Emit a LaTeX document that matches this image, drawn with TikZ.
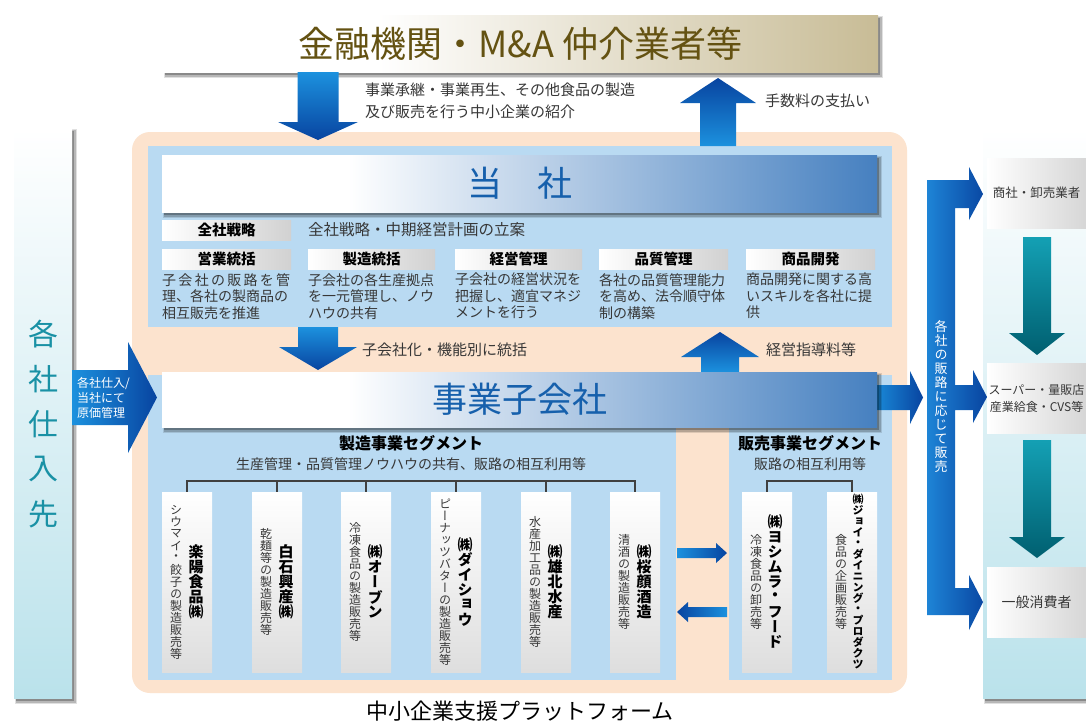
\documentclass[tikz,border=0pt]{standalone}
\usepackage{fontspec}
\setmainfont{Noto Sans CJK JP}
\newfontfamily\vfont[RawFeature=+vert]{Noto Sans CJK JP}
\definecolor{peach}{RGB}{252,227,206}
\definecolor{lblue}{RGB}{185,218,242}
\definecolor{bnblue}{RGB}{70,128,192}
\definecolor{bntext}{RGB}{22,96,172}
\definecolor{tanc}{RGB}{200,188,150}
\definecolor{olive}{RGB}{100,82,18}
\definecolor{arlight}{RGB}{28,145,222}
\definecolor{ardark}{RGB}{8,68,160}
\definecolor{armid}{RGB}{30,132,214}
\definecolor{tealA}{RGB}{20,160,180}
\definecolor{tealB}{RGB}{0,95,112}
\definecolor{cyanbg}{RGB}{186,226,235}
\definecolor{tealtext}{RGB}{25,145,165}
\definecolor{txt}{RGB}{55,55,55}
\pgfdeclarehorizontalshading{topshade}{100bp}{color(0bp)=(white); color(40bp)=(white); color(75bp)=(tanc); color(100bp)=(tanc)}
\pgfdeclarehorizontalshading{bannershade}{100bp}{color(0bp)=(white); color(38bp)=(white); color(75bp)=(bnblue); color(100bp)=(bnblue)}
\def\vstkend{VSTKEND}
\newcommand\vstk[2]{\vbox{\offinterlineskip\def\vcellh{#1}\vstkloop#2\vstkend}}
\def\vstkloop#1{\ifx#1\vstkend\else\vbox to \vcellh{\vss\hbox to \vcellh{\hss#1\hss}\vss}\expandafter\vstkloop\fi}
% vertical block arrow: cx, ystart, ytip, shaft half width, head half width, y of head base, style
\newcommand\arrV[7]{\path[#7] ({#1-#4},#2) -- ({#1-#4},#6) -- ({#1-#5},#6) -- (#1,#3) -- ({#1+#5},#6) -- ({#1+#4},#6) -- ({#1+#4},#2) -- cycle;}
% horizontal block arrow: cy, xstart, xtip, shaft half width, head half width, x of head base, style
\newcommand\arrH[7]{\path[#7] (#2,{#1-#4}) -- (#6,{#1-#4}) -- (#6,{#1-#5}) -- (#3,#1) -- (#6,{#1+#5}) -- (#6,{#1+#4}) -- (#2,{#1+#4}) -- cycle;}
% soft shadow behind a box: x1,y1,x2,y2
\newcommand\shadowrect[4]{%
 \fill[black, opacity=.12] ({#1+1},{#2+1}) rectangle ({#3+5},{#4+6});
 \fill[black, opacity=.18] ({#1+1.5},{#2+2}) rectangle ({#3+3.5},{#4+4.5});
 \fill[black, opacity=.25] ({#1+2},{#2+2.5}) rectangle ({#3+2},{#4+3});}
\newcommand\cobox[7]{%
 \node[cbox] (#1) at (#2,582) {};
 \node[inner sep=0, text=txt, font=\vfont\fontsize{#4}{#4}\selectfont] (#1d) at ([xshift=-11pt]#1.center) {\vstk{#4pt}{#3}};
 \node[inner sep=0, text=black, font=\vfont\bfseries\fontsize{#6}{#6}\selectfont] (#1n) at ([xshift=#7pt]#1.center) {\vstk{#6pt}{#5}};}
\tikzset{
 topbox/.style={shade, shading=topshade, minimum width=715pt, minimum height=57pt, inner sep=0, text=olive, font=\fontsize{36}{40}\selectfont},
 banner/.style={shade, shading=bannershade, minimum width=715pt, inner sep=0, text=bntext, font=\fontsize{35}{40}\selectfont},
 lbox/.style={left color=white, right color=black!18, minimum width=129pt, minimum height=20pt, inner sep=0, font=\bfseries\fontsize{14.5}{16}\selectfont},
 dsc/.style={align=left, inner sep=0, text=txt, font=\fontsize{14}{16.5}\selectfont, anchor=north west},
 lbl/.style={inner sep=0, text=txt, font=\fontsize{15}{18}\selectfont},
 cbox/.style={top color=white, bottom color=black!13, minimum width=50pt, minimum height=180pt, inner sep=0},
 ibox/.style={left color=white, right color=black!16, minimum width=99pt, minimum height=70pt, inner sep=0, text=txt, align=center},
 tree/.style={draw=black!75, line width=1.6pt},
 arrdown/.style={top color=arlight, bottom color=ardark},
 arrup/.style={top color=ardark, bottom color=arlight},
 arrright/.style={left color=arlight, right color=ardark},
 arrleft/.style={left color=ardark, right color=arlight},
 tealarr/.style={top color=tealA, bottom color=tealB},
 sidebar/.style={top color=white, bottom color=cyanbg, minimum width=58pt, minimum height=570pt, inner sep=0}
}
\begin{document}
\begin{tikzpicture}[x=1pt,y=-1pt]
\fill[white] (0,0) rectangle (1086,724);
\useasboundingbox (0,0) rectangle (1086,724);
% side columns
\shadowrect{14}{128}{72}{698}
\node[sidebar] (shiire) at (43,413) {};
\node[inner sep=0, text=tealtext, font=\fontsize{30}{30}\selectfont] (shiiret) at (43,424) {\vstk{45pt}{各社仕入先}};
\shadowrect{983}{128}{1086}{698}
\node[sidebar, minimum width=103pt] (hanro) at (1034.5,413) {};
% platform background
\fill[peach, rounded corners=18pt] (132,132) rectangle (907,693);
\fill[lblue] (148,146) rectangle (892,327);
\fill[lblue] (148,375) rectangle (676,680);
\fill[lblue] (729,375) rectangle (892,680);
% top box and arrows
\shadowrect{163}{15}{878}{72}
\node[topbox] (fin) at (520.5,43.5) {金融機関・M\&A 仲介業者等};
\arrV{318}{72}{140}{20.5}{40}{122}{arrdown}
\arrV{718}{146}{78}{18}{38}{103}{arrup}
\node[lbl, anchor=west] (t1) at (365,90) {事業承継・事業再生、その他食品の製造};
\node[lbl, anchor=west] (t2) at (365,112) {及び販売を行う中小企業の紹介};
\node[lbl, anchor=west] (t3) at (765,101) {手数料の支払い};
% Tosha
\shadowrect{162}{155}{877}{212}
\node[banner, minimum height=57pt] (tosha) at (519.5,183.5) {当　社};
\node[lbox] (l0) at (226.5,230) {全社戦略};
\node[lbl, anchor=west, font=\fontsize{15.5}{18}\selectfont] (l0t) at (308,230) {全社戦略・中期経営計画の立案};
\node[lbox] (l1) at (226.5,259) {営業統括};
\node[lbox, minimum width=127pt] (l2) at (371.5,259) {製造統括};
\node[lbox, minimum width=127pt] (l3) at (518.5,259) {経営管理};
\node[lbox] (l4) at (663.5,259) {品質管理};
\node[lbox] (l5) at (810.5,259) {商品開発};
\node[dsc] (d1) at (162,273) {\hbox to 128pt{子\hfill 会\hfill 社\hfill の\hfill 販\hfill 路\hfill を\hfill 管}\\理、各社の製商品の\\相互販売を推進};
\node[dsc] (d2) at (308,273) {子会社の各生産拠点\\を一元管理し、ノウ\\ハウの共有};
\node[dsc] (d3) at (455,273) {子会社の経営状況を\\把握し、適宜マネジ\\メントを行う};
\node[dsc] (d4) at (599,273) {各社の品質管理能力\\を高め、法令順守体\\制の構築};
\node[dsc] (d5) at (746,273) {商品開発に関する高\\いスキルを各社に提\\供};
% middle arrows
\arrV{318}{327}{370}{20}{39}{347}{arrdown}
\arrV{720}{372}{332}{19}{39}{357}{arrup}
\node[lbl, anchor=west] (t4) at (362,350) {子会社化・機能別に統括};
\node[lbl, anchor=west] (t5) at (766,350) {経営指導料等};
% left supply arrow
\arrH{397.5}{72}{157}{27.5}{55.5}{128}{arrright}
\node[inner sep=0, text=white, align=left, anchor=west, font=\fontsize{12}{15}\selectfont] (shtxt) at (77,398) {各社仕入/\\当社にて\\原価管理};
% right arrow from subsidiaries
\arrH{397.5}{870}{923}{12.5}{26.5}{910}{arrright}
% subsidiaries banner
\shadowrect{162}{372}{877}{427}
\node[banner, minimum height=55pt] (jigyo) at (519.5,399.5) {事業子会社};
% distribution bracket
\path[left color=armid, right color=ardark] (927,180) -- (969,180) -- (969,167) -- (983,194) -- (969,220) -- (969,208) -- (955,208) -- (955,385) -- (973,385) -- (973,370) -- (987,397) -- (973,423) -- (973,410) -- (955,410) -- (955,588) -- (969,588) -- (969,575) -- (983,602) -- (969,630) -- (969,615) -- (927,615) -- cycle;
\node[inner sep=0, text=white, font=\vfont\fontsize{13}{13}\selectfont] (barlbl) at (941,397) {\vstk{14pt}{各社の販路に応じて販売}};
% customers
\node[ibox, font=\fontsize{12.5}{15}\selectfont] (r1) at (1036.5,193) {商社・卸売業者};
\node[ibox, font=\fontsize{12}{17}\selectfont] (r2) at (1036.5,398) {スーパー・量販店\\産業給食・CVS等};
\node[ibox, font=\fontsize{14}{16}\selectfont] (r3) at (1036.5,602.5) {一般消費者};
\arrV{1037}{237}{355}{14}{28}{333}{tealarr}
\arrV{1037}{440}{558}{14}{28}{537}{tealarr}
% segments
\node[inner sep=0, font=\bfseries\fontsize{16}{18}\selectfont] (seg1) at (411,443) {製造事業セグメント};
\node[lbl, font=\fontsize{14}{16}\selectfont] (seg1t) at (411,464) {生産管理・品質管理ノウハウの共有、販路の相互利用等};
\node[inner sep=0, font=\bfseries\fontsize{16}{18}\selectfont] (seg2) at (810,443) {販売事業セグメント};
\node[lbl, font=\fontsize{14}{16}\selectfont] (seg2t) at (810,464) {販路の相互利用等};
% companies
\cobox{c1}{187}{シウマイ・餃子の製造販売等}{12}{楽陽食品㈱}{15}{9}
\cobox{c2}{277}{乾麺等の製造販売等}{12}{白石興産㈱}{15}{9}
\cobox{c3}{366}{冷凍食品の製造販売等}{12}{㈱オーブン}{15}{9}
\cobox{c4}{456}{ピーナッツバターの製造販売等}{12}{㈱ダイショウ}{15}{9}
\cobox{c5}{546}{水産加工品の製造販売等}{12}{㈱雄北水産}{15}{9}
\cobox{c6}{635}{清酒の製造販売等}{12}{㈱桜顔酒造}{15}{9}
\cobox{c7}{767}{冷凍食品の卸売等}{12}{㈱ヨシムラ・フード}{15}{8}
\cobox{c8}{852}{食品の企画販売等}{12}{㈱ジョイ・ダイニング・プロダクツ}{11}{6}
\draw[tree] (c1.north) -- ++(0,-11) -| (c6.north);
\foreach \c in {c2,c3,c4,c5} \draw[tree] (\c.north) -- ++(0,-11);
\draw[tree] (c7.north) -- ++(0,-11) -| (c8.north);
% exchange arrows
\arrH{553}{677}{727}{5}{10}{716}{arrright}
\arrH{612}{727}{677}{5}{10}{688}{arrleft}
% platform label
\node[inner sep=0, font=\fontsize{22}{24}\selectfont] (plat) at (520,711) {中小企業支援プラットフォーム};
\end{tikzpicture}
\end{document}
